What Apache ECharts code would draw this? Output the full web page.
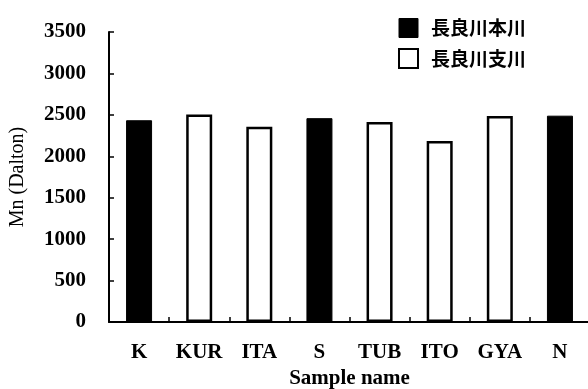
<!DOCTYPE html>
<html><head><meta charset="utf-8">
<script src="https://cdn.jsdelivr.net/npm/echarts@6/dist/echarts.min.js"></script>
<style>html,body{margin:0;padding:0;background:#fff}#c{width:588px;height:389px}</style>
</head><body><div id="c"></div>
<script>
const categories = ['K','KUR','ITA','S','TUB','ITO','GYA','N'];
const mainRiver = [2435, null, null, 2460, null, null, null, 2490];
const tributary = [null, 2505, 2355, null, 2415, 2185, 2485, null];
const seriesNames = ['長良川本川','長良川支川'];
const yTicks = [0,500,1000,1500,2000,2500,3000,3500];

const serif = '"Liberation Serif","DejaVu Serif",serif';
const chart = echarts.init(document.getElementById('c'), null, {renderer:'canvas'});
chart.setOption({
  animation:false,
  backgroundColor:'#fff',
  grid:{left:109, top:32, width:481, bottom:67, containLabel:false, outerBoundsMode:'none'},
  legend:{
    orient:'vertical', left:393, top:13, itemWidth:19, itemHeight:19, itemGap:10,
    textStyle:{fontFamily:'"Noto Sans CJK JP"', fontWeight:'bold', fontSize:19, color:'#000', padding:[0,0,0,8]},
    data:[
      {name:seriesNames[0], icon:'rect', itemStyle:{color:'#000', borderColor:'#000', borderWidth:1}},
      {name:seriesNames[1], icon:'rect', itemStyle:{color:'#fff', borderColor:'#000', borderWidth:2}}
    ]
  },
  xAxis:{
    type:'category', data:categories,
    name:'Sample name', nameLocation:'middle', nameGap:45,
    nameTextStyle:{fontFamily:serif, fontWeight:'bold', fontSize:21, color:'#000'},
    axisLine:{lineStyle:{color:'#000', width:2}},
    axisTick:{show:true, inside:true, length:5, lineStyle:{color:'#000', width:1.5}},
    axisLabel:{fontFamily:serif, fontWeight:'bold', fontSize:21, color:'#000', margin:20, interval:0, hideOverlap:false}
  },
  yAxis:{
    type:'value', min:0, max:3500, interval:500,
    name:'Mn (Dalton)', nameLocation:'middle', nameGap:81, nameRotate:90,
    nameTextStyle:{fontFamily:serif, fontWeight:'normal', fontSize:20, color:'#000'},
    axisLine:{show:true, lineStyle:{color:'#000', width:2}},
    axisTick:{show:true, inside:true, length:5, lineStyle:{color:'#000', width:1.5}},
    axisLabel:{fontFamily:serif, fontWeight:'bold', fontSize:21, color:'#000', margin:23,
      formatter:v=>yTicks.includes(v)?String(v):''},
    splitLine:{show:false}
  },
  series:[
    {name:seriesNames[0], type:'bar', data:mainRiver, barWidth:26, barGap:'-100%',
     itemStyle:{color:'#000', borderColor:'#000', borderWidth:1}},
    {name:seriesNames[1], type:'bar', data:tributary, barWidth:26, barGap:'-100%',
     itemStyle:{color:'#fff', borderColor:'#000', borderWidth:2.5}}
  ]
});
</script></body></html>
